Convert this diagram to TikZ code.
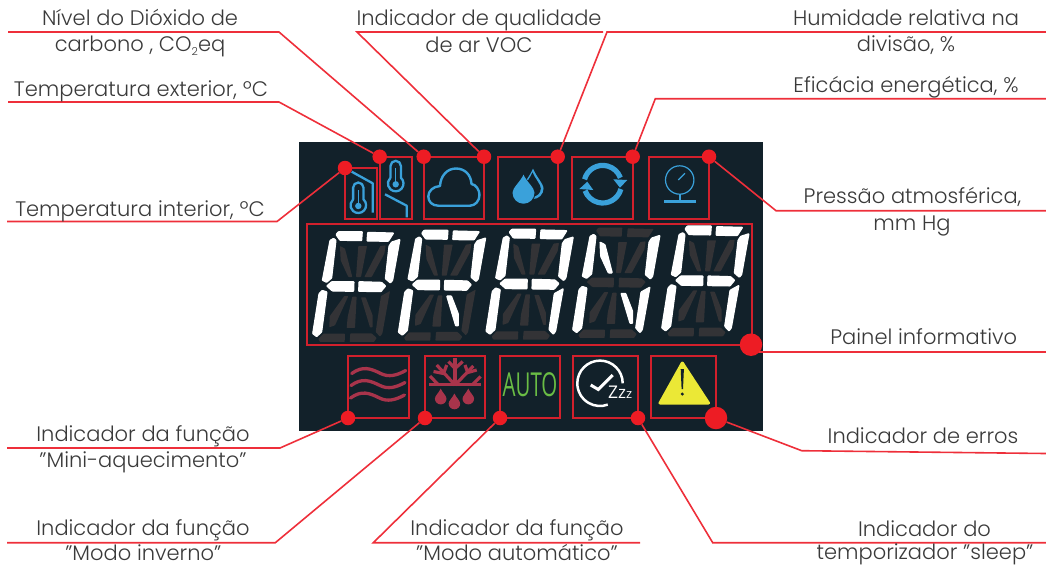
\documentclass[tikz,border=0pt]{standalone}
\usepackage{fontspec}
\setmainfont{Poppins}[UprightFont=* Light]
\newfontfamily\autofont{Open Sans}
\newfontfamily\zzfont{Open Sans}
\definecolor{panelbg}{HTML}{12212A}
\definecolor{segoff}{HTML}{333336}
\definecolor{boxred}{HTML}{D2202C}
\definecolor{dotred}{HTML}{ED1C24}
\definecolor{leadred}{HTML}{EE2F3A}
\definecolor{icoblue}{HTML}{3AA1DA}
\definecolor{icomar}{HTML}{A8344B}
\definecolor{icogreen}{HTML}{6ABD45}
\definecolor{icoyel}{HTML}{EBE836}
\definecolor{txt}{HTML}{3A3A3A}
\tikzset{
  lbl/.style={anchor=base,inner sep=0pt,text=txt,font=\fontsize{21}{21}\selectfont},
  dotS/.style={circle,fill=dotred,minimum size=14.5pt,inner sep=0pt},
  dotL/.style={circle,fill=dotred,minimum size=22.5pt,inner sep=0pt},
  leader/.style={draw=leadred,line width=1.6pt},
  icobox/.style={draw=boxred,line width=1.7pt},
  alloff/.style={sa1/.style={fill=segoff},sa2/.style={fill=segoff},sf/.style={fill=segoff},sb/.style={fill=segoff},
    sg1/.style={fill=segoff},sg2/.style={fill=segoff},se/.style={fill=segoff},sc/.style={fill=segoff},
    sd1/.style={fill=segoff},sd2/.style={fill=segoff},sh/.style={fill=segoff},si/.style={fill=segoff},
    sj/.style={fill=segoff},sl/.style={fill=segoff},sm/.style={fill=segoff},sn/.style={fill=segoff}},
  lit/.code={\tikzset{s#1/.style={fill=white,draw=white,line width=1.1pt,line join=round}}},
  thermoline/.style={draw=icoblue,line width=2.3pt,line join=round},
  marline/.style={draw=icomar,line width=3.3pt,line cap=round},
  snow/.style={draw=icomar,line width=3.2pt,line cap=butt},
}
\newcommand{\lcddigit}[3]{%
\begin{scope}[shift={(#1,#2)},x=0.3333pt,y=-0.3333pt,alloff,lit/.list={#3},rounded corners=0.6pt]
\path[sa1] (93,38)--(100,29)--(172,29)--(170,56)--(105,55)--cycle;
\path[sa2] (188,31)--(266,33)--(250,58)--(186,57)--cycle;
\path[sf] (75,55)--(86,49)--(93,55)--(80,168)--(65,181)--(52,175)--cycle;
\path[sb] (260,60)--(285,52)--(263,175)--(256,183)--(241,170)--(252,72)--cycle;
\path[sg1] (65,192)--(80,179)--(147,179)--(146,208)--(82,207)--cycle;
\path[sg2] (162,179)--(230,181)--(242,192)--(228,209)--(161,208)--cycle;
\path[se] (42,215)--(52,205)--(66,210)--(50,330)--(35,344)--(23,335)--cycle;
\path[sc] (228,222)--(255,207)--(232,335)--(225,344)--(212,330)--cycle;
\path[sd1] (40,351)--(55,335)--(120,335)--(119,360)--(45,360)--cycle;
\path[sd2] (136,334)--(200,334)--(215,348)--(207,360)--(134,360)--cycle;
\path[sh] (105,72)--(120,80)--(142,165)--(130,165)--(107,115)--cycle;
\path[si] (160,72)--(186,72)--(168,165)--(153,165)--cycle;
\path[sj] (226,72)--(242,70)--(238,95)--(200,165)--(178,165)--cycle;
\path[sl] (118,222)--(130,222)--(90,310)--(73,316)--(74,283)--cycle;
\path[sm] (142,224)--(155,224)--(150,318)--(125,318)--(128,285)--cycle;
\path[sn] (168,226)--(182,226)--(203,280)--(203,316)--(195,316)--cycle;
\end{scope}}
\newcommand{\thermo}[2]{%
\draw[thermoline] (#1-5.2,#2-6.6) -- (#1-5.2,#2-18.3) arc[start angle=180,end angle=360,radius=5.2] -- (#1+5.2,#2-6.6)
  arc[start angle=-48,end angle=228,radius=7.8] -- cycle;
\draw[draw=icoblue,line width=1.5pt] (#1,#2-16) -- (#1,#2);
\fill[icoblue] (#1,#2) circle[radius=3.2];}
\newcommand{\tdrop}[5]{% x y r tiplen colour
\fill[#5] (#1,#2-#4) .. controls (#1+0.3*#3,#2-0.6*#4) and (#1+#3,#2-0.45*#3) .. (#1+#3,#2)
  arc[start angle=0,end angle=180,radius=#3] .. controls (#1-#3,#2-0.45*#3) and (#1-0.3*#3,#2-0.6*#4) .. cycle;}
\begin{document}
\begin{tikzpicture}[x=1pt,y=-1pt]
\useasboundingbox (0,0) rectangle (1046,566);
\fill[panelbg] (299,142) rectangle (763,431);
% boxes
\draw[icobox] (344.7,168) rectangle (377.3,219.3);
\draw[icobox] (379.7,156.7) rectangle (411.7,219.3);
\draw[icobox] (423.7,156.7) rectangle (484,219.3);
\draw[icobox] (497.7,156.7) rectangle (557.7,219.3);
\draw[icobox] (572.3,156.7) rectangle (632.7,219.3);
\draw[icobox] (648.7,156.7) rectangle (709.3,219.3);
\draw[icobox] (307.3,224) rectangle (751.7,344.7);
\draw[icobox] (348,355.7) rectangle (408.7,418);
\draw[icobox] (424.7,355.7) rectangle (485,418);
\draw[icobox] (499.7,355.7) rectangle (560.3,418);
\draw[icobox] (573,355.7) rectangle (638.3,418);
\draw[icobox] (650.7,355.7) rectangle (716,418);
% digits
\lcddigit{305}{222}{a1,a2,f,b,g1,g2,e}
\lcddigit{390.7}{220.6}{a1,a2,f,b,g1,g2,e,n}
\lcddigit{478.3}{219.6}{a1,a2,f,b,g1,g2,e,c}
\lcddigit{565}{218}{f,b,e,c,h,n}
\lcddigit{654}{216.3}{a1,a2,f,b,g1,g2,e,c}
% thermometers
\thermo{358.3}{206}
\draw[thermoline] (351.7,171.7) -- (372.7,183.3) -- (372.7,212.7);
\thermo{395.7}{184.3}
\draw[thermoline] (385,194.3) -- (406.7,205.7) -- (406.7,217.3);
% cloud
\draw[draw=icoblue,line width=2.4pt,line join=round] (438.3,205.7) .. controls (432,205.7) and (428.3,201.5) .. (428.3,196.5)
  .. controls (428.3,191) and (433,186.5) .. (440,186) .. controls (440.5,176) and (447,168.5) .. (456,168.5)
  .. controls (465,168.5) and (471,175) .. (471.5,184) .. controls (476,184.5) and (479.5,190) .. (479.5,195)
  .. controls (479.5,201) and (475,205.7) .. (470,205.7) -- cycle;
% drops
\tdrop{533}{188.5}{10.5}{20}{icoblue}
\tdrop{532.5}{188.3}{8.3}{16}{panelbg}
\tdrop{523.5}{192.7}{12}{18.5}{panelbg}
\tdrop{523.5}{192.7}{11}{18}{icoblue}
% cycle arrows
\draw[draw=icoblue,line width=5.2pt] (602.7,184.2) ++(195:18.8) arc[start angle=195,end angle=340,radius=18.8];
\draw[draw=icoblue,line width=5.2pt] (602.7,184.2) ++(15:18.8) arc[start angle=15,end angle=160,radius=18.8];
\fill[icoblue] (613.3,179.3) -- (627.3,180) -- (620,187.7) -- cycle;
\fill[icoblue] (579.3,189) -- (593.3,190) -- (587.3,181.7) -- cycle;
% gauge
\draw[draw=icoblue,line width=1.2pt] (679.7,180) circle[radius=14.2];
\draw[draw=icoblue,line width=1.2pt] (678.3,180) -- (685,173.3);
\draw[draw=icoblue,line width=1.4pt] (680,194) -- (680,200);
\fill[icoblue] (664,199.6) rectangle (695.7,203);
% waves
\foreach \wx/\wy in {351.7/373.5, 351/385.5, 350.5/398}{
  \draw[marline] (\wx,\wy) .. controls (\wx+11,\wy-8) and (\wx+19,\wy-5) .. (\wx+29,\wy)
    .. controls (\wx+37,\wy+4) and (\wx+45,\wy+2) .. (\wx+54,\wy-3);
}
% snowflake
\fill[icomar] (429,382.8) rectangle (481,386.2);
\draw[snow] (455,358) -- (455,385);
\draw[snow] (448.5,361.5) -- (455,368.5) -- (462.7,361.5);
\draw[snow] (455,385) -- (436.7,365);
\draw[snow] (455,385) -- (473.3,366);
\draw[snow] (446.7,365) -- (443.5,373.5) -- (433.5,371.5);
\draw[snow] (465,365) -- (467.7,372.5) -- (476.7,370);
\draw[snow] (430,376) -- (438,384.5);
\draw[snow] (480.7,376.5) -- (472.7,384.5);
\tdrop{440.7}{398.6}{5.8}{10}{icomar}
\tdrop{454.4}{403.5}{5.8}{10}{icomar}
\tdrop{468.3}{398.6}{5.8}{10}{icomar}
% AUTO
\node[anchor=center,inner sep=0pt,xscale=0.62,text=icogreen,font=\autofont\fontsize{33}{33}\selectfont] (autotext) at (530,385) {AUTO};
% sleep
\draw[draw=white,line width=2.5pt] (600,383.3) ++(0:22.7) arc[start angle=0,end angle=-290,radius=22.7];
\draw[draw=white,line width=3pt,line join=miter] (590.7,385) -- (598.3,389.5) -- (612.7,375);
\node[anchor=base west,inner sep=0pt,text=white,font=\zzfont] (zzz) at (608,398.5) {\fontsize{17.5}{17.5}\selectfont Z\fontsize{17}{17}\selectfont z\fontsize{13}{13}\selectfont z};
% warning
\fill[icoyel,draw=icoyel,line width=3pt,line join=round] (682.3,363) -- (660,403) -- (708.5,403) -- cycle;
\fill[panelbg] (680.7,369) -- (683.9,369) -- (683,389) -- (681.6,389) -- cycle;
\fill[panelbg] (682.3,394) circle[radius=1.7];
% dots
\node[dotS] (dA) at (345,168) {};
\node[dotS] (dB) at (379.7,156.7) {};
\node[dotS] (dC) at (423.7,156.7) {};
\node[dotS] (dCb) at (484,156.7) {};
\node[dotS] (dD) at (557.7,156.7) {};
\node[dotS] (dE) at (632.7,156.7) {};
\node[dotS] (dF) at (709,156.7) {};
\node[dotL] (dP) at (751,344.7) {};
\node[dotS] (dG) at (348,418) {};
\node[dotS] (dH) at (425,418) {};
\node[dotS] (dI) at (500,418) {};
\node[dotS] (dJ) at (638,418) {};
\node[dotL] (dK) at (716,418) {};
% leaders
\coordinate (l1a) at (8,32); \coordinate (l1b) at (279,32);
\coordinate (l2a) at (8,102); \coordinate (l2b) at (279,102);
\coordinate (l3a) at (7,221.5); \coordinate (l3b) at (277,221.5);
\coordinate (l4a) at (603,32); \coordinate (l4b) at (357,32);
\coordinate (l5a) at (1046,32); \coordinate (l5b) at (607,32);
\coordinate (l6a) at (1046,98.7); \coordinate (l6b) at (655.3,98.7);
\coordinate (l7a) at (1046,210.7); \coordinate (l7b) at (776,210.7);
\coordinate (l8a) at (1046,351.7); \coordinate (l8m) at (900,351.7); \coordinate (l8b) at (759,351.7);
\coordinate (l9a) at (1046,453.5); \coordinate (l9b) at (801.7,450.7);
\coordinate (l10a) at (1046,542.7); \coordinate (l10b) at (712.7,542.7);
\coordinate (l11a) at (7,448); \coordinate (l11b) at (280,448);
\coordinate (l12a) at (7,542.7); \coordinate (l12b) at (275.3,542.7);
\coordinate (l13a) at (640,542.7); \coordinate (l13b) at (373.3,542.7);
\draw[leader] (l1a) -- (l1b) -- (dC);
\draw[leader] (l2a) -- (l2b) -- (dB);
\draw[leader] (l3a) -- (l3b) -- (dA);
\draw[leader] (l4a) -- (l4b) -- (dCb);
\draw[leader] (l5a) -- (l5b) -- (dD);
\draw[leader] (l6a) -- (l6b) -- (dE);
\draw[leader] (l7a) -- (l7b) -- (dF);
\draw[leader] (l8a) -- (l8m) -- (l8b);
\draw[leader] (l9a) -- (l9b) -- (dK);
\draw[leader] (l10a) -- (l10b) -- (dJ);
\draw[leader] (l11a) -- (l11b) -- (dG);
\draw[leader] (l12a) -- (l12b) -- (dH);
\draw[leader] (l13a) -- (l13b) -- (dI);
% labels
\node[lbl] (t1) at (140,25) {Nível do Dióxido de};
\node[lbl] (t1b) at (140,51.7) {carbono , CO\raisebox{-3.5pt}{\fontsize{11}{11}\selectfont 2}eq};
\node[lbl] (t2) at (141,96) {Temperatura exterior, ºC};
\node[lbl] (t3) at (140,216) {Temperatura interior, ºC};
\node[lbl] (t4) at (479,25) {Indicador de qualidade};
\node[lbl] (t4b) at (479,52) {de ar VOC};
\node[lbl] (t5) at (906,25) {Humidade relativa na};
\node[lbl] (t5b) at (906,51) {divisão, \%};
\node[lbl] (t6) at (906,92.7) {Eficácia energética, \%};
\node[lbl] (t7) at (912.5,203) {Pressão atmosférica,};
\node[lbl] (t7b) at (912,230) {mm Hg};
\node[lbl] (t8) at (923.7,344) {Painel informativo};
\node[lbl] (t9) at (923,443) {Indicador de erros};
\node[lbl] (t10) at (924.5,536) {Indicador do};
\node[lbl] (t10b) at (925,559.8) {temporizador "sleep"};
\node[lbl] (t11) at (143,441.7) {Indicador da função};
\node[lbl] (t11b) at (143,467.7) {"Mini-aquecimento"};
\node[lbl] (t12) at (143,535) {Indicador da função};
\node[lbl] (t12b) at (143.3,560) {"Modo inverno"};
\node[lbl] (t13) at (517,535) {Indicador da função};
\node[lbl] (t13b) at (517,560) {"Modo automático"};
\end{tikzpicture}
\end{document}
